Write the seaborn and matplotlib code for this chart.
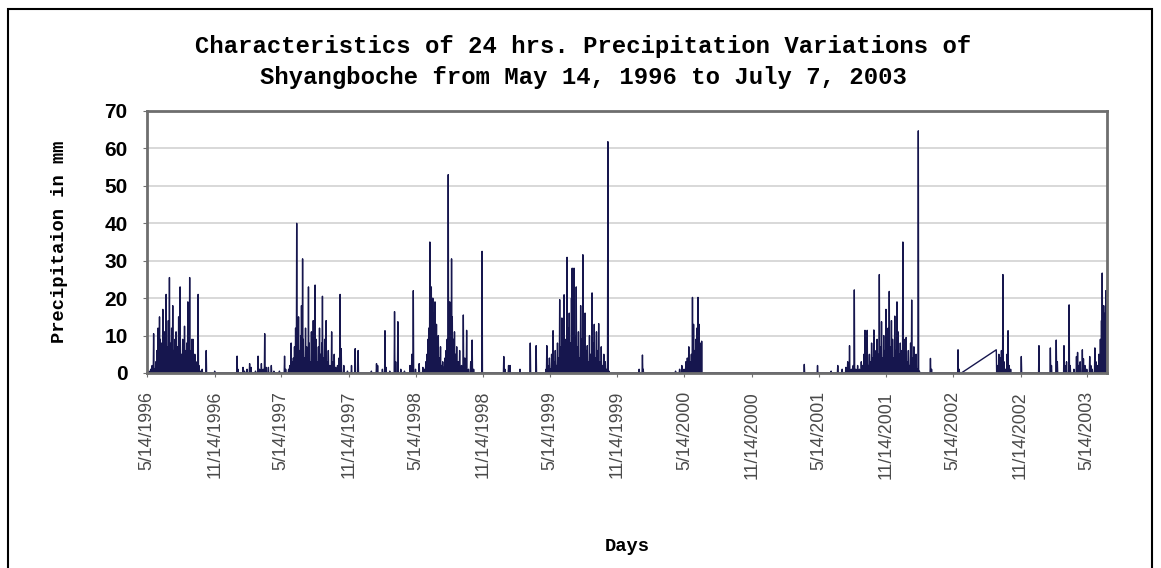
import numpy as np
import pandas as pd
import seaborn as sns

import matplotlib
matplotlib.use('Agg')
import matplotlib.pyplot as plt
from matplotlib.patches import Rectangle

start = pd.Timestamp('1996-05-14')
end = pd.Timestamp('2003-07-07')

# rainy days, given as day number counted from 14 May 1996, and rain in mm
days_1996 = [5, 10, 14, 18, 21, 24, 27, 30, 32, 34, 36, 38, 40, 43, 45, 47, 49, 52, 54, 56, 58, 61, 63, 65, 67,
             70, 72, 74, 76, 79, 81, 83, 86, 88, 90, 92, 94, 97, 99, 102, 104, 106, 108, 111, 113, 116, 118, 120,
             122, 125, 127, 130, 133, 136, 139, 141, 145, 150, 161, 184]
mm_1996 = [0.5, 1, 2, 10.5, 1, 3, 6, 12, 5, 15, 9, 4, 8, 17, 6, 11, 4, 21, 7, 3, 14, 25.5, 5, 8, 12,
           18, 6, 3, 9, 11, 4, 7, 15, 6, 23, 3, 5, 9, 4, 12.5, 6, 2, 8, 19, 5, 25.5, 3, 6,
           9, 9, 2, 5, 1, 3, 21, 2, 0.5, 1, 6, 0.5]

days_dry97 = [245, 247, 261, 265, 272, 279, 283, 295, 302, 306, 311, 316, 320, 324, 330, 338, 345, 360, 374, 377,
              385, 388, 392, 395]
mm_dry97 = [4.5, 1, 1.5, 0.5, 1, 2.5, 1.5, 0.5, 4.5, 1, 2.5, 1, 10.5, 1.5, 1.5, 2, 0.5, 0.5, 4.5, 1,
            1, 2, 8, 3]

days_1997 = [398, 401, 404, 407, 409, 412, 415, 418, 420, 423, 425, 428, 431, 434, 436, 439, 441, 444, 447, 450,
             452, 455, 457, 460, 463, 466, 469, 472, 475, 477, 480, 483, 487, 490, 493, 497, 502, 505, 509, 513,
             518, 522, 525, 528, 535, 545, 556, 566, 574]
mm_1997 = [4, 7, 12, 40, 8, 15, 6, 10, 18, 30.5, 9, 4, 12, 7, 5, 23, 8, 3, 11, 6,
           14, 4, 23.5, 9, 3, 7, 12, 5, 8, 20.5, 4, 9, 14, 3, 6, 2, 11, 3, 5, 1.5,
           2, 4, 21, 6.5, 2, 0.5, 2, 6.5, 6]

days_dry98 = [610, 624, 627, 640, 647, 650, 660, 673, 676, 682, 690, 700, 715, 720, 724, 730, 740, 750]
mm_dry98 = [0.5, 2.5, 2, 1, 11.3, 1.5, 0.5, 16.4, 3, 13.7, 1, 0.5, 2, 5, 22, 1, 2.5, 1.5]

days_1998 = [755, 758, 761, 764, 766, 769, 771, 773, 775, 777, 779, 781, 783, 785, 787, 790, 792, 795, 798, 801,
             804, 807, 810, 813, 816, 819, 821, 823, 826, 828, 830, 833, 836, 839, 842, 846, 850, 855, 860, 864,
             869, 874, 880, 884, 888, 911]
mm_1998 = [1, 3, 5, 9, 12, 35, 14, 23, 10, 20, 16, 8, 19, 11, 13, 6, 10, 4, 7, 2,
           3, 1.5, 4, 6, 9, 53, 12, 19, 8, 30.5, 15, 9, 11, 5, 7, 3, 6, 2, 15.5, 4,
           11.4, 1, 3, 8.8, 1, 32.5]

days_dry99 = [970, 973, 983, 987, 1014, 1042, 1058]
mm_dry99 = [4.4, 1, 2, 2, 1, 8, 7.3]

days_1999 = [1085, 1087, 1090, 1094, 1097, 1100, 1104, 1107, 1110, 1113, 1116, 1119, 1122, 1125, 1128, 1131,
             1134, 1137, 1139, 1142, 1145, 1148, 1151, 1154, 1156, 1158, 1161, 1164, 1167, 1170, 1173, 1176,
             1179, 1182, 1185, 1188, 1191, 1194, 1197, 1200, 1203, 1206, 1210, 1213, 1216, 1219, 1222, 1225,
             1228, 1231, 1235, 1238, 1242, 1246, 1250, 1253, 1256]
mm_1999 = [1, 7.3, 2, 4, 1, 5, 11.3, 3, 6, 2, 8, 4, 19.6, 7, 14.7, 5,
           20.9, 9, 6, 30.9, 12, 16, 8, 20, 28, 14, 28, 10, 23, 7, 11, 4,
           18, 9, 31.6, 12, 16, 6, 7.3, 3, 10, 5, 21.4, 8, 13, 4, 11, 6,
           13.2, 3, 7, 2, 5, 3, 1, 61.8, 0.5]

days_2000 = [1338, 1347, 1349, 1437, 1448, 1454, 1460, 1465, 1469, 1473, 1476, 1480, 1483, 1486, 1489, 1492,
             1495, 1498, 1501, 1504, 1508]
mm_2000 = [1, 4.8, 1, 0.5, 1, 2, 1, 3, 4, 7, 3, 5, 20.2, 13, 6, 9,
           12, 20.2, 13, 8, 8.5]

days_2001 = [1787, 1823, 1860, 1878, 1890, 1900, 1905, 1910, 1915, 1920, 1923, 1927, 1932, 1937, 1942, 1946,
             1949, 1952, 1955, 1958, 1961, 1964, 1967, 1970, 1973, 1976, 1979, 1982, 1985, 1988, 1991, 1994,
             1997, 2000, 2003, 2006, 2009, 2012, 2015, 2018, 2021, 2024, 2027, 2030, 2033, 2036, 2039, 2042,
             2045, 2048, 2051, 2055, 2058, 2061, 2064, 2067, 2070, 2073, 2076, 2079, 2082, 2085, 2088, 2091,
             2094, 2097, 2100, 2130, 2133]
mm_2001 = [2.3, 2, 0.5, 2, 1, 1.5, 3, 7.3, 1, 2, 22.2, 1, 2, 1, 3, 2,
           5, 11.4, 3, 11.4, 2, 5, 3, 8, 4, 11.5, 6, 3, 9, 5, 26.3, 7,
           13.7, 4, 10, 6, 17, 8, 12, 21.8, 7, 14, 9, 4, 15.2, 6, 19, 11,
           5, 8, 6, 35, 9, 4, 9.5, 3, 6, 2, 8, 19.5, 4, 7, 2, 5,
           1, 64.7, 0.5, 3.9, 1]

days_2002 = [2205, 2208, 2309, 2312, 2316, 2320, 2323, 2327, 2330, 2334, 2338, 2341, 2344, 2348, 2377, 2425]
mm_2002 = [6.2, 1, 6.2, 2, 5, 4, 6, 26.3, 3, 1, 5, 11.3, 2, 1, 4.4, 7.3]

days_2003 = [2456, 2459, 2472, 2475, 2493, 2496, 2500, 2507, 2510, 2520, 2527, 2530, 2533, 2537, 2543, 2546,
             2550, 2555, 2563, 2566, 2570, 2577, 2580, 2584, 2588, 2592, 2595, 2597, 2599, 2601, 2603, 2605,
             2607, 2609, 2610]
mm_2003 = [6.7, 2, 8.8, 3, 7.3, 2, 3, 18.2, 2, 1, 4.4, 5.5, 2, 3, 6.2, 3.8,
           2, 1, 4.4, 2, 1, 6.7, 3, 2, 5, 9, 14, 26.7, 10, 18, 12, 16,
           22, 11, 22]

# days with no record (the line just joins across them)
missing = range(2215, 2309)

tick_labels = ['5/14/1996', '11/14/1996', '5/14/1997', '11/14/1997', '5/14/1998', '11/14/1998',
               '5/14/1999', '11/14/1999', '5/14/2000', '11/14/2000', '5/14/2001', '11/14/2001',
               '5/14/2002', '11/14/2002', '5/14/2003']

#----------build daily table----------
all_days = (days_1996 + days_dry97 + days_1997 + days_dry98 + days_1998 + days_dry99 + days_1999
            + days_2000 + days_2001 + days_2002 + days_2003)
all_mm = (mm_1996 + mm_dry97 + mm_1997 + mm_dry98 + mm_1998 + mm_dry99 + mm_1999
          + mm_2000 + mm_2001 + mm_2002 + mm_2003)

n_days = (end - start).days
rain = pd.Series(0.0, index=np.arange(n_days + 1))
rain[all_days] = all_mm
rain = rain.drop(list(missing))

data = pd.DataFrame({'date': start + pd.to_timedelta(rain.index, unit='D'), 'mm': rain.values})

#----------plot----------
W, H = 1161, 568
fig, ax = plt.subplots(figsize=(W / 100, H / 100), dpi=100)
fig.subplots_adjust(left=147 / W, right=1107 / W, top=1 - 111 / H, bottom=1 - 373 / H)

sns.lineplot(data=data, x='date', y='mm', color='#16164e', linewidth=1.0, estimator=None, ax=ax)

ax.set_ylim(0, 70)
ax.set_yticks(range(0, 71, 10))
ax.set_xlim(start, end)
ax.set_xticks(pd.to_datetime(tick_labels, format='%m/%d/%Y'))
ax.set_xticklabels(tick_labels, rotation=90, fontsize=12.8, color='#4a4a4a', family='Liberation Sans')
for lab in ax.get_yticklabels():
    lab.set_fontsize(15)
    lab.set_fontweight('bold')
    lab.set_family('Liberation Sans')

ax.grid(axis='y', color='#d6d6d6', linewidth=1.3)
ax.set_axisbelow(True)
ax.tick_params(axis='y', length=3, pad=11, color='#707070')
ax.tick_params(axis='x', length=3, pad=10, color='#707070')
for s in ax.spines.values():
    s.set_color('#6e6e6e')
    s.set_linewidth(2)

mono = dict(family='Liberation Mono', fontweight='bold')
ax.set_ylabel('Precipitaion in mm', fontsize=13.5, **mono)
ax.yaxis.set_label_coords((68 - 147) / 960, 0.5)
ax.set_xlabel('Days', fontsize=13.5, **mono)
ax.xaxis.set_label_coords(0.5, -(538 - 373) / 262)

fig.text(583 / W, 1 - 62 / H,
         'Characteristics of 24 hrs. Precipitation Variations of\nShyangboche from May 14, 1996 to July 7, 2003',
         ha='center', va='center', fontsize=17.2, linespacing=1.45, **mono)

fig.add_artist(Rectangle((8 / W, -0.05), (1152 - 8) / W, 1.05 - 9 / H, transform=fig.transFigure,
                         fill=False, edgecolor='black', linewidth=1.5, clip_on=False))

plt.savefig('out.png', dpi=100)
